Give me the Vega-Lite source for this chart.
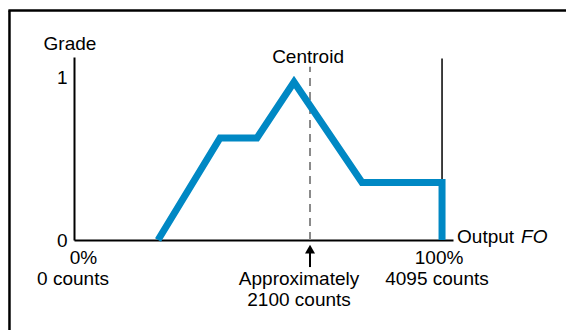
{
  "$schema": "https://vega.github.io/schema/vega-lite/v6.json",
  "width": 379,
  "height": 183,
  "autosize": "none",
  "padding": {"left": 74, "top": 57, "right": 113, "bottom": 90},
  "background": "white",
  "config": {"view": {"stroke": null}, "font": "Liberation Sans"},
  "datasets": {
    "grade": [
      {"counts": 935, "grade": 0},
      {"counts": 1625, "grade": 0.63},
      {"counts": 2036, "grade": 0.63},
      {"counts": 2448, "grade": 0.975},
      {"counts": 3205, "grade": 0.355},
      {"counts": 4095, "grade": 0.355},
      {"counts": 4095, "grade": 0}
    ],
    "labels": [
      {"text": "Grade", "counts": -45, "grade": 1.173},
      {"text": "Centroid", "counts": 2604, "grade": 1.093},
      {"text": "0%", "counts": 106, "grade": -0.148},
      {"text": "0 counts", "counts": -11, "grade": -0.275},
      {"text": "Approximately", "counts": 2504, "grade": -0.275},
      {"text": "2100 counts", "counts": 2504, "grade": -0.405},
      {"text": "100%", "counts": 4062, "grade": -0.148},
      {"text": "4095 counts", "counts": 4039, "grade": -0.275}
    ]
  },
  "encoding": {
    "x": {"type": "quantitative", "scale": {"domain": [0, 4217]}},
    "y": {"type": "quantitative", "scale": {"domain": [0, 1.1296]}}
  },
  "layer": [
    {
      "data": {"values": [{"counts": 4095, "lo": 0, "hi": 1.12}]},
      "mark": {"type": "rule", "color": "black", "strokeWidth": 1.5},
      "encoding": {
        "x": {"field": "counts", "type": "quantitative", "axis": {"labels": false, "ticks": false, "title": null, "grid": false, "domainColor": "black", "domainWidth": 2}},
        "y": {"field": "lo", "type": "quantitative", "axis": {"values": [0, 1], "format": "d", "ticks": false, "title": null, "grid": false, "domainColor": "black", "domainWidth": 2, "labelFontSize": 19, "labelColor": "black", "labelPadding": 7, "labelFont": "Liberation Sans"}},
        "y2": {"field": "hi"}
      }
    },
    {
      "data": {"values": [{"counts": 2626, "lo": 0, "hi": 1.07}]},
      "mark": {"type": "rule", "color": "#8a8a8a", "strokeWidth": 2, "strokeDash": [8, 6]},
      "encoding": {
        "x": {"field": "counts", "type": "quantitative"},
        "y": {"field": "lo", "type": "quantitative"},
        "y2": {"field": "hi"}
      }
    },
    {
      "data": {"name": "grade"},
      "mark": {"type": "line", "color": "#0088c4", "strokeWidth": 7, "strokeJoin": "miter", "strokeCap": "butt"},
      "encoding": {
        "x": {"field": "counts", "type": "quantitative"},
        "y": {"field": "grade", "type": "quantitative"},
        "order": {"value": 0}
      }
    },
    {
      "data": {"values": [{"counts": 2626, "lo": -0.167, "hi": -0.06}]},
      "mark": {"type": "rule", "color": "black", "strokeWidth": 2, "clip": false},
      "encoding": {
        "x": {"field": "counts", "type": "quantitative"},
        "y": {"field": "lo", "type": "quantitative"},
        "y2": {"field": "hi"}
      }
    },
    {
      "data": {"values": [{"counts": 2626, "tip": -0.056}]},
      "mark": {"type": "point", "shape": "triangle-up", "filled": true, "color": "black", "size": 100, "opacity": 1, "clip": false},
      "encoding": {
        "x": {"field": "counts", "type": "quantitative"},
        "y": {"field": "tip", "type": "quantitative"}
      }
    },
    {
      "data": {"name": "labels"},
      "mark": {"type": "text", "fontSize": 19, "align": "center", "baseline": "alphabetic", "color": "black", "clip": false},
      "encoding": {
        "x": {"field": "counts", "type": "quantitative"},
        "y": {"field": "grade", "type": "quantitative"},
        "text": {"field": "text"}
      }
    },
    {
      "data": {"values": [{"text": "Output", "counts": 4262, "grade": -0.02}]},
      "mark": {"type": "text", "fontSize": 19, "align": "left", "baseline": "alphabetic", "color": "black", "clip": false},
      "encoding": {
        "x": {"field": "counts", "type": "quantitative"},
        "y": {"field": "grade", "type": "quantitative"},
        "text": {"field": "text"}
      }
    },
    {
      "data": {"values": [{"text": "FO", "counts": 4975, "grade": -0.02}]},
      "mark": {"type": "text", "fontSize": 19, "fontStyle": "italic", "align": "left", "baseline": "alphabetic", "color": "black", "clip": false},
      "encoding": {
        "x": {"field": "counts", "type": "quantitative"},
        "y": {"field": "grade", "type": "quantitative"},
        "text": {"field": "text"}
      }
    },
    {
      "data": {"values": [{"x1": -718, "x2": -718, "y1": 1.417, "y2": -0.6}, {"x1": -730, "x2": 5600, "y1": 1.417, "y2": 1.417}]},
      "mark": {"type": "rule", "color": "black", "strokeWidth": 2.5, "clip": false},
      "encoding": {
        "x": {"field": "x1", "type": "quantitative"},
        "x2": {"field": "x2"},
        "y": {"field": "y1", "type": "quantitative"},
        "y2": {"field": "y2"}
      }
    }
  ]
}
